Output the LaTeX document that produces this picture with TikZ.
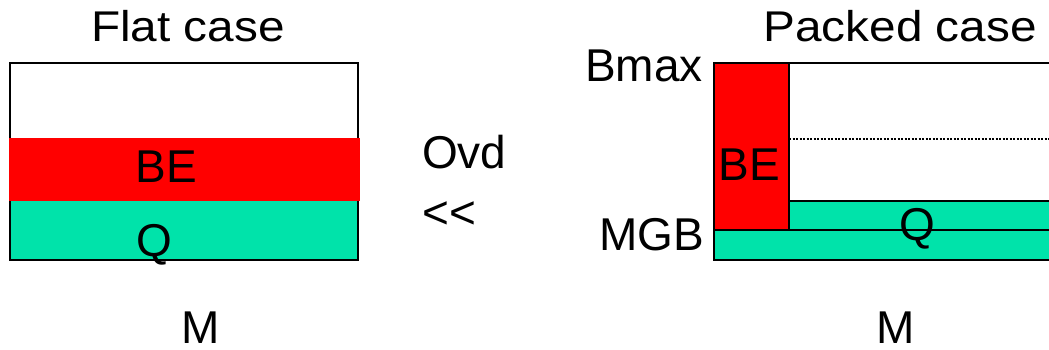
\documentclass[tikz,border=0pt]{standalone}
\usepackage{graphicx}
\usepackage{fontspec}
\setmainfont{Liberation Sans}
\definecolor{qgreen}{RGB}{0,227,170}
\definecolor{bered}{RGB}{255,0,0}
\begin{document}
\begin{tikzpicture}[x=1pt,y=-1pt,
  box/.style={draw=black,line width=2.5pt},
  lbl/.style={inner sep=0pt,anchor=base,font=\fontsize{46}{50}\selectfont},
  ttl/.style={inner sep=0pt,anchor=base,font=\fontsize{43}{48}\selectfont}]
\useasboundingbox (0,0) rectangle (1049,350);

% flat case: one queue band and one best-effort band
\fill[white] (10,63) rectangle (358,260);
\fill[qgreen] (10,201) rectangle (358,260);
\draw[box] (10,63) rectangle (358,260);
\fill[bered] (9,138) rectangle (360,201);

% packed case
\draw[box,fill=white] (714,63) rectangle (1060,260);
\draw[line width=2pt,dash pattern=on 2pt off 1.5pt] (789,139) -- (1060,139);
\draw[box,fill=qgreen] (789,201) rectangle (1060,230);
\draw[box,fill=qgreen] (714,230) rectangle (1060,260);
\draw[box,fill=bered] (714,63) rectangle (789,230);

% titles
\node[ttl] (tflat) at (188,42) {\scalebox{1.11}[1]{Flat case}};
\node[ttl] (tpack) at (900,42) {\scalebox{1.11}[1]{Packed case}};

% flat case labels
\node[lbl] (be1) at (166,182) {BE};
\node[lbl] (q1) at (154,256) {Q};
\node[lbl] (m1) at (201,343) {M};

% middle comparison
\node[lbl,anchor=base west] (ovd) at (422,168) {Ovd};
\node[lbl,anchor=base west] (ll) at (422,228) {{<}{<}};

% packed case labels
\node[lbl,anchor=base east] (bmax) at (703,82) {Bmax};
\node[lbl,anchor=base east] (mgb) at (704,250) {MGB};
\node[lbl] (be2) at (749,180) {BE};
\node[lbl] (q2) at (917,240) {Q};
\node[lbl] (m2) at (896,343) {M};
\end{tikzpicture}
\end{document}
